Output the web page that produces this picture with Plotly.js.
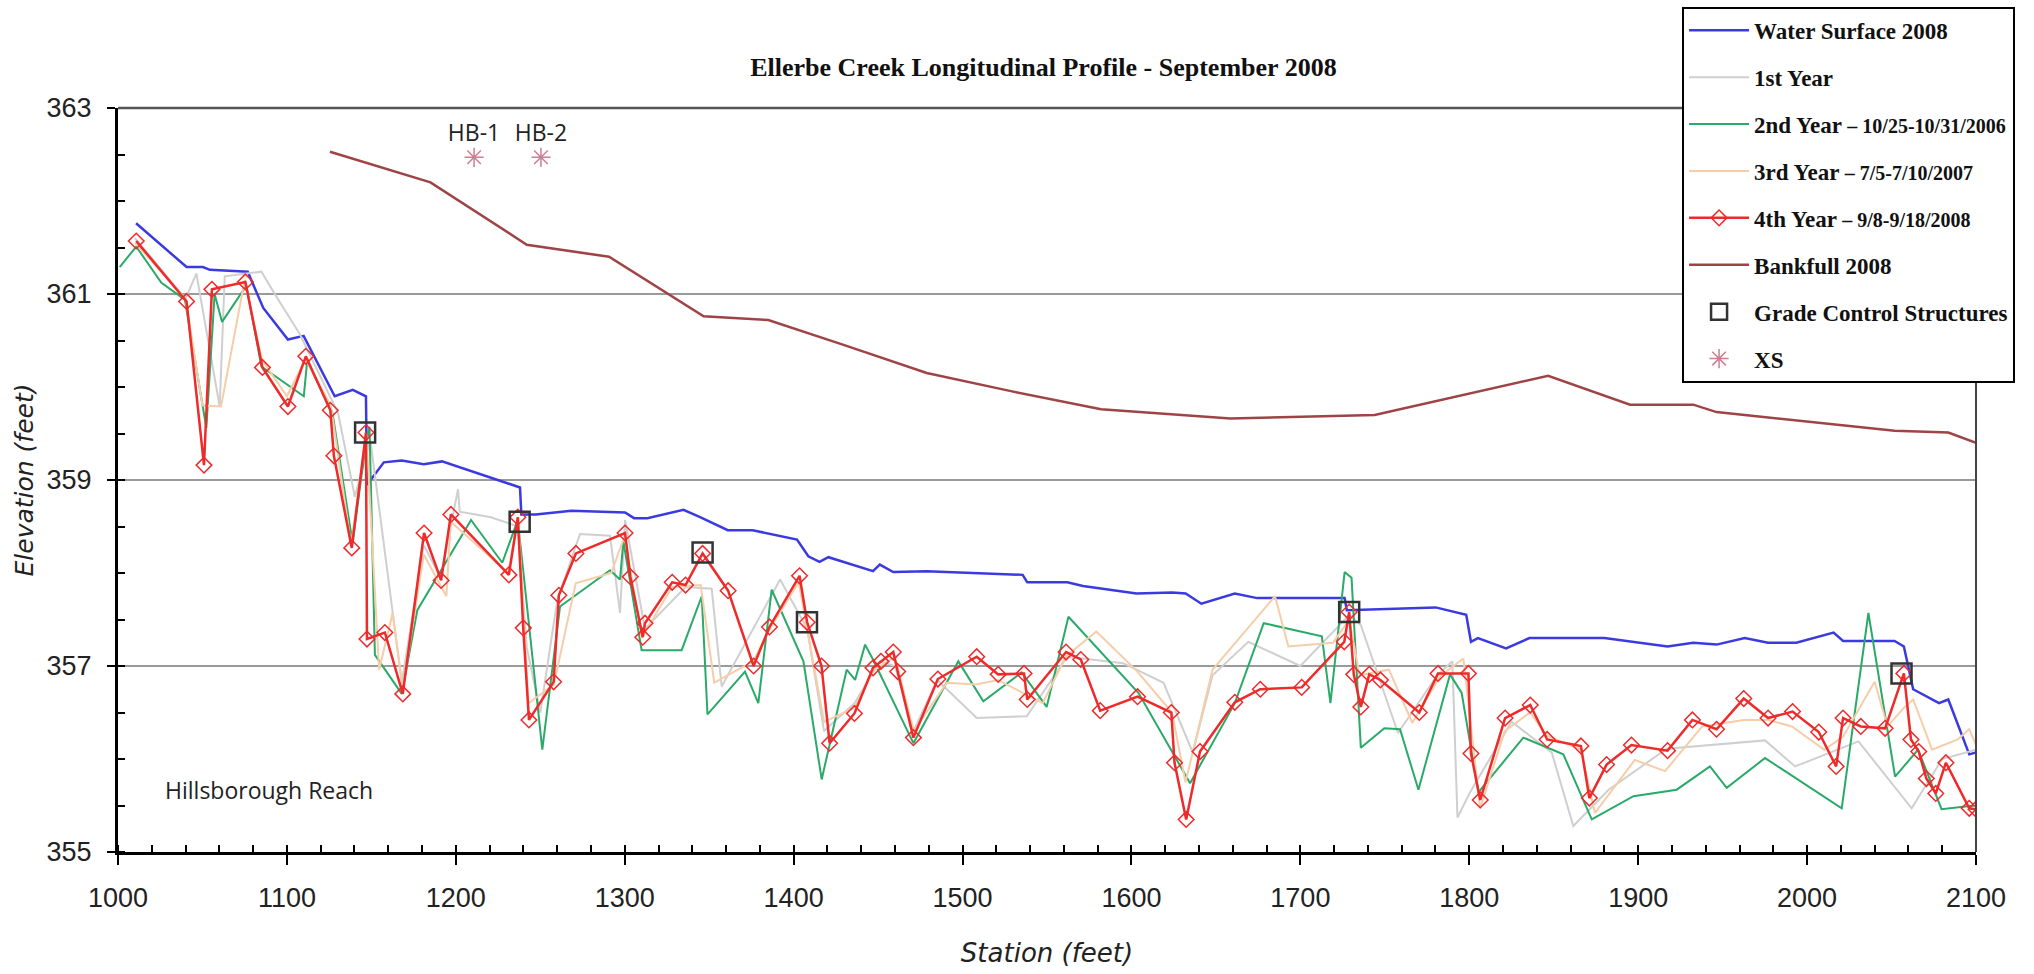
<!DOCTYPE html>
<html><head><meta charset="utf-8">
<script src="https://cdn.plot.ly/plotly-3.0.1.min.js"></script>
<style>html,body{margin:0;padding:0;background:#fff;}</style>
</head><body><div id="chart" style="width:2034px;height:974px;"></div>
<script>
// [station (ft), elevation (ft)]
const waterSurface2008 = [[1010.7,361.76],[1040.6,361.29],[1050.3,361.29],[1054.4,361.26],[1076.8,361.24],[1086.0,360.85],[1100.6,360.51],[1109.9,360.55],[1128.3,359.90],[1139.0,359.97],[1146.8,359.90],[1147.4,358.95],[1157.4,359.19],[1168.0,359.21],[1181.0,359.17],[1191.8,359.20],[1238.0,358.92],[1238.8,358.63],[1247.3,358.63],[1268.4,358.67],[1300.2,358.65],[1305.5,358.59],[1313.4,358.59],[1334.8,358.68],[1344.6,358.60],[1361.0,358.46],[1375.7,358.46],[1402.0,358.36],[1408.7,358.18],[1415.3,358.12],[1420.6,358.17],[1447.0,358.02],[1451.0,358.09],[1459.0,358.01],[1478.8,358.02],[1535.6,357.98],[1538.3,357.90],[1562.0,357.90],[1571.3,357.86],[1603.0,357.78],[1624.2,357.79],[1632.1,357.78],[1641.4,357.67],[1661.2,357.78],[1674.4,357.73],[1726.2,357.73],[1727.5,357.60],[1780.1,357.63],[1798.2,357.55],[1801.0,357.26],[1805.1,357.30],[1821.8,357.19],[1835.6,357.30],[1866.1,357.30],[1880.0,357.30],[1917.4,357.21],[1932.6,357.25],[1946.4,357.23],[1963.1,357.30],[1976.9,357.25],[1993.6,357.25],[2015.7,357.36],[2021.3,357.27],[2051.8,357.27],[2057.3,357.21],[2062.8,356.75],[2078.1,356.60],[2083.6,356.64],[2096.0,356.05],[2100.0,356.07]];

const year1 = [[1010,361.60],[1040,360.95],[1046.4,361.22],[1060.2,359.79],[1063.2,361.19],[1084.9,361.24],[1092.8,361.00],[1107.6,360.57],[1130.3,359.72],[1140.2,358.82],[1149.4,359.43],[1168,356.82],[1181,358.30],[1191,357.95],[1201.3,358.90],[1202.3,358.66],[1220.8,358.60],[1236.7,358.50],[1242,357.20],[1250,356.50],[1260,357.70],[1273.5,358.42],[1291.3,358.40],[1297.2,357.57],[1300.2,358.57],[1312,357.40],[1336,357.85],[1351.5,357.83],[1357.4,356.78],[1392,357.93],[1408,357.40],[1418,356.30],[1436,356.60],[1451,357.05],[1460,357.00],[1471,356.30],[1485,356.85],[1508.4,356.44],[1538,356.46],[1562,357.10],[1595.1,357.03],[1619,356.82],[1636.3,356.07],[1648,356.90],[1669.2,357.26],[1700,357.00],[1729,357.55],[1735.8,357.44],[1757.8,356.28],[1781,356.90],[1790,357.05],[1793,355.37],[1800.4,355.64],[1825,356.40],[1848.8,356.07],[1861.6,355.28],[1882.5,355.67],[1916.9,356.11],[1975.1,356.20],[1992.9,355.92],[2030.4,356.19],[2061.9,355.47],[2080,356.00],[2100,356.10]];

const year2 = [[1001.0,361.29],[1010.8,361.51],[1025.7,361.12],[1039.6,360.94],[1052.3,359.56],[1057.2,361.00],[1061.6,360.70],[1076.0,361.09],[1084.9,360.22],[1110.0,359.90],[1112.0,360.28],[1127.0,359.72],[1138.9,358.32],[1146.3,359.34],[1148.9,359.57],[1152.1,357.12],[1168.0,356.70],[1177.2,357.60],[1209.0,358.57],[1227.5,358.11],[1236.7,358.57],[1251.2,356.10],[1261.7,357.64],[1291.3,358.03],[1297.2,357.93],[1299.2,358.34],[1310.0,357.17],[1333.7,357.17],[1345.6,357.75],[1349.0,356.48],[1371.2,356.94],[1379.1,356.60],[1387.0,357.82],[1405.8,357.05],[1416.6,355.78],[1431.4,356.96],[1436.4,356.85],[1442.3,357.23],[1447.0,357.07],[1470.9,356.17],[1497.5,357.05],[1512.3,356.62],[1535.0,356.93],[1549.8,356.56],[1562.7,357.53],[1604.2,356.71],[1634.7,355.74],[1661.2,356.60],[1678.3,357.46],[1712.7,357.32],[1717.8,356.60],[1726.2,358.01],[1730.3,357.95],[1735.8,356.12],[1749.7,356.33],[1759.0,356.32],[1769.9,355.67],[1788.6,356.91],[1795.5,356.71],[1805.4,355.64],[1832.0,356.23],[1855.7,356.05],[1872.5,355.35],[1897.2,355.60],[1922.8,355.67],[1942.5,355.92],[1952.4,355.69],[1975.1,356.01],[2020.5,355.47],[2036.3,357.57],[2052.1,355.81],[2065.7,356.10],[2079.6,355.46],[2098.9,355.50]];

const year3 = [[1010,361.55],[1040,360.95],[1050,359.80],[1061,359.79],[1075,361.15],[1085,360.30],[1100,359.90],[1111,360.30],[1126,359.80],[1138,358.30],[1147,359.50],[1154.6,356.96],[1162.6,357.57],[1168.6,356.75],[1181,358.20],[1194.4,357.75],[1197,358.55],[1231,358.00],[1237,358.60],[1243,356.60],[1258,356.80],[1271,357.89],[1292,358.00],[1300,358.40],[1310,357.30],[1328,357.85],[1345,357.87],[1353,356.82],[1376,357.05],[1386,357.40],[1403,357.90],[1408,357.40],[1418,356.40],[1436,356.55],[1447,356.95],[1460,357.10],[1471,356.30],[1490.7,356.82],[1507.9,356.80],[1521,356.85],[1547.5,356.60],[1561,357.10],[1579.2,357.37],[1603,356.95],[1624,356.50],[1632,355.75],[1648,356.96],[1685,357.75],[1692.9,357.21],[1719.3,357.25],[1729,357.50],[1735,356.90],[1752.4,356.96],[1766.3,356.39],[1782.7,356.89],[1796.5,357.08],[1806.4,355.47],[1821,356.30],[1836,356.50],[1846,356.25],[1866,356.10],[1874.4,355.42],[1898,355.99],[1915.9,355.87],[1937.9,356.35],[1962.5,356.42],[1977,356.42],[1991,356.35],[2010.2,356.10],[2021.3,356.24],[2040,356.83],[2047.6,356.35],[2057.3,356.55],[2062.8,356.64],[2074,356.10],[2089.2,356.21],[2096,356.32],[2100,356.15]];

const year4 = [[1010.8,361.57],[1040.6,360.92],[1050.9,359.16],[1055.6,361.05],[1075.4,361.13],[1085.5,360.21],[1100.6,359.79],[1111.2,360.33],[1125.7,359.75],[1127.8,359.26],[1138.4,358.27],[1146.8,359.51],[1147.4,357.29],[1158.0,357.36],[1168.6,356.70],[1181.2,358.43],[1191.3,357.92],[1197.1,358.63],[1231.4,357.98],[1236.7,358.60],[1239.9,357.41],[1243.3,356.42],[1257.9,356.83],[1261.0,357.76],[1271.1,358.21],[1300.2,358.43],[1303.3,357.96],[1310.7,357.31],[1312.0,357.46],[1328.1,357.90],[1336.0,357.87],[1346.1,358.21],[1361.2,357.81],[1376.3,357.00],[1385.7,357.42],[1403.5,357.97],[1408.0,357.47],[1416.5,357.00],[1421.3,356.17],[1436.0,356.49],[1447.0,356.98],[1451.7,357.05],[1459.0,357.15],[1461.6,356.94],[1470.9,356.23],[1485.4,356.86],[1508.4,357.10],[1521.1,356.91],[1536.4,356.92],[1538.3,356.64],[1561.3,357.15],[1570.0,357.07],[1581.5,356.52],[1603.6,356.67],[1623.6,356.50],[1625.5,355.96],[1632.4,355.35],[1640.6,356.08],[1661.2,356.61],[1676.3,356.75],[1700.8,356.77],[1726.0,357.26],[1728.9,357.58],[1731.6,356.91],[1735.8,356.56],[1740.8,356.91],[1747.4,356.85],[1770.4,356.50],[1781.5,356.92],[1799.5,356.92],[1801.0,356.06],[1806.5,355.56],[1821.2,356.44],[1836.1,356.58],[1846.1,356.21],[1866.1,356.14],[1871.1,355.58],[1881.3,355.94],[1896.0,356.15],[1917.4,356.09],[1932.1,356.42],[1946.4,356.32],[1962.5,356.65],[1976.9,356.44],[1991.4,356.51],[2006.9,356.29],[2017.2,355.92],[2021.3,356.44],[2031.8,356.35],[2046.2,356.33],[2057.3,356.92],[2061.5,356.21],[2066.1,356.08],[2070.6,355.79],[2076.2,355.63],[2082.2,355.96],[2096.0,355.47],[2100.0,355.46]];

const bankfull2008 = [[1125.5,362.53],[1185,362.20],[1242,361.53],[1290.7,361.40],[1346.7,360.76],[1385,360.72],[1430,360.45],[1478.8,360.15],[1530,359.95],[1582,359.76],[1658.6,359.66],[1744,359.70],[1846.7,360.12],[1895.2,359.81],[1932.6,359.81],[1946.4,359.73],[2051.8,359.53],[2083.6,359.51],[2100,359.40]];

const gradeControl = [[1146.3,359.51],[1237.8,358.55],[1346.1,358.22],[1407.9,357.47],[1728.9,357.58],[2055.9,356.92]];

const xsStations = [1210.8, 1250.4];
const xsElev = [362.47, 362.47];
const xsLabels = ["HB-1", "HB-2"];

const seriesNames = [
  "Water Surface 2008",
  "1st Year",
  "2nd Year <span style='font-size:20px'>– 10/25-10/31/2006</span>",
  "3rd Year <span style='font-size:20px'>– 7/5-7/10/2007</span>",
  "4th Year <span style='font-size:20px'>– 9/8-9/18/2008</span>",
  "Bankfull 2008",
  "Grade Control Structures",
  "XS"
];

const xs = a => a.map(p => p[0]);
const ys = a => a.map(p => p[1]);

const traces = [
  {x: xs(waterSurface2008), y: ys(waterSurface2008), name: seriesNames[0], mode: 'lines', line: {color: '#3a3ae0', width: 2.5}, legendgroup: 'g0'},
  {x: xs(year1), y: ys(year1), name: seriesNames[1], mode: 'lines', line: {color: '#cfcfcf', width: 2}, legendgroup: 'g1'},
  {x: xs(year2), y: ys(year2), name: seriesNames[2], mode: 'lines', line: {color: '#2aaa68', width: 2}, legendgroup: 'g2'},
  {x: xs(year3), y: ys(year3), name: seriesNames[3], mode: 'lines', line: {color: '#f6cda8', width: 2}, legendgroup: 'g3'},
  {x: xs(year4), y: ys(year4), name: seriesNames[4], mode: 'lines+markers', line: {color: '#ee2a2a', width: 2.5},
   marker: {symbol: 'diamond-open', size: 12, color: '#ee2a2a', line: {width: 1.5}}, legendgroup: 'g4'},
  {x: xs(bankfull2008), y: ys(bankfull2008), name: seriesNames[5], mode: 'lines', line: {color: '#9e4446', width: 2.5}, legendgroup: 'g5'},
  {x: xs(gradeControl), y: ys(gradeControl), name: seriesNames[6], mode: 'markers',
   marker: {symbol: 'square-open', size: 20, color: '#333333', line: {width: 2.5}}, legendgroup: 'g6'},
  {x: xsStations, y: xsElev, name: seriesNames[7], mode: 'markers+text', text: xsLabels, textposition: 'top center',
   textfont: {family: 'Open Sans', size: 23, color: '#222'},
   marker: {symbol: 'asterisk-open', size: 16, color: '#cc7f92', line: {width: 1.5, color: '#cc7f92'}}, legendgroup: 'g7'}
];

const layout = {
  width: 2034, height: 974,
  margin: {l: 118, r: 58, t: 108, b: 122, pad: 0, autoexpand: false},
  paper_bgcolor: '#ffffff', plot_bgcolor: '#ffffff',
  font: {family: 'Liberation Sans, Arial, sans-serif', color: '#111'},
  title: {text: 'Ellerbe Creek Longitudinal Profile - September 2008',
          font: {family: 'Liberation Serif, serif', size: 26, weight: 'bold', color: '#111'},
          x: 0.513, xanchor: 'center', y: 0.931, yanchor: 'middle'},
  showlegend: true,
  legend: {x: 0.8418, y: 1.136, xanchor: 'left', yanchor: 'top',
           bgcolor: '#ffffff', bordercolor: '#000', borderwidth: 2,
           font: {family: 'Liberation Serif, serif', size: 23, weight: 'bold', color: '#111'},
           traceorder: 'grouped', tracegroupgap: 14, itemwidth: 60},
  xaxis: {range: [1000, 2100], dtick: 100, tick0: 1000, showgrid: false, zeroline: false,
          showline: true, linecolor: '#000', linewidth: 3,
          ticks: 'outside', ticklen: 10, tickwidth: 2, tickcolor: '#000',
          tickfont: {family: 'Liberation Sans, Arial, sans-serif', size: 27, color: '#222'},
          ticklabelstandoff: 10,
          minor: {dtick: 20, ticks: 'inside', ticklen: 7, tickwidth: 2, tickcolor: '#000', showgrid: false},
          title: {text: 'Station (feet)', font: {family: 'DejaVu Sans, sans-serif', size: 26, style: 'italic', color: '#222'}, standoff: 32}},
  yaxis: {range: [355, 363], dtick: 2, tick0: 355, showgrid: true, gridcolor: '#9a9a9a', gridwidth: 2, zeroline: false,
          showline: true, linecolor: '#000', linewidth: 3,
          ticks: 'outside', ticklen: 8, tickwidth: 2, tickcolor: '#000',
          tickfont: {family: 'Liberation Sans, Arial, sans-serif', size: 27, color: '#222'},
          ticklabelstandoff: 10,
          minor: {dtick: 0.5, ticks: 'inside', ticklen: 7, tickwidth: 2, tickcolor: '#000', showgrid: false},
          title: {text: 'Elevation (feet)', font: {family: 'DejaVu Sans, sans-serif', size: 25, style: 'italic', color: '#222'}, standoff: 6}},
  shapes: [
    {type: 'line', xref: 'paper', yref: 'paper', x0: 0, x1: 1, y0: 1, y1: 1, line: {color: '#555', width: 2.5}},
    {type: 'line', xref: 'paper', yref: 'paper', x0: 1, x1: 1, y0: 0, y1: 1, line: {color: '#444', width: 2}}
  ],
  annotations: [
    {text: 'Hillsborough Reach', x: 1089.4, y: 355.67, xref: 'x', yref: 'y', showarrow: false,
     xanchor: 'center', yanchor: 'middle', font: {family: 'Open Sans', size: 23, color: '#222'}}
  ]
};

Plotly.newPlot('chart', traces, layout, {displayModeBar: false, staticPlot: true});
</script></body></html>
